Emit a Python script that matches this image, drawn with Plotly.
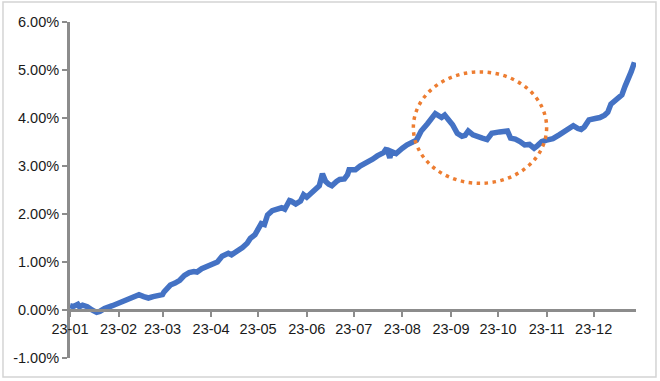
import plotly.graph_objects as go

# ---- data ----
dates = [
    "2023-01-01", "2023-01-03", "2023-01-06", "2023-01-07", "2023-01-09", "2023-01-12",
    "2023-01-15", "2023-01-18", "2023-01-20", "2023-01-23", "2023-01-28", "2023-02-01",
    "2023-02-05", "2023-02-09", "2023-02-14", "2023-02-17", "2023-02-20", "2023-02-23",
    "2023-02-26", "2023-03-01", "2023-03-02", "2023-03-06", "2023-03-09", "2023-03-12",
    "2023-03-15", "2023-03-18", "2023-03-21", "2023-03-23", "2023-03-26", "2023-03-30",
    "2023-04-02", "2023-04-05", "2023-04-08", "2023-04-12", "2023-04-14", "2023-04-17",
    "2023-04-21", "2023-04-24", "2023-04-26", "2023-04-29", "2023-05-01", "2023-05-03",
    "2023-05-05", "2023-05-07", "2023-05-10", "2023-05-13", "2023-05-16", "2023-05-18",
    "2023-05-21", "2023-05-22", "2023-05-25", "2023-05-28", "2023-05-30", "2023-06-01",
    "2023-06-04", "2023-06-07", "2023-06-09", "2023-06-11", "2023-06-13", "2023-06-15",
    "2023-06-17", "2023-06-20", "2023-06-22", "2023-06-25", "2023-06-27", "2023-06-28",
    "2023-07-02", "2023-07-05", "2023-07-09", "2023-07-13", "2023-07-16", "2023-07-20",
    "2023-07-22", "2023-07-24", "2023-07-25", "2023-07-28", "2023-08-01", "2023-08-04",
    "2023-08-10", "2023-08-13", "2023-08-17", "2023-08-20", "2023-08-22", "2023-08-26",
    "2023-08-28", "2023-08-30", "2023-09-02", "2023-09-05", "2023-09-08", "2023-09-10",
    "2023-09-12", "2023-09-15", "2023-09-18", "2023-09-21", "2023-09-24", "2023-09-27",
    "2023-10-02", "2023-10-07", "2023-10-09", "2023-10-12", "2023-10-15", "2023-10-18",
    "2023-10-21", "2023-10-24", "2023-10-26", "2023-10-29", "2023-11-01", "2023-11-05",
    "2023-11-09", "2023-11-14", "2023-11-18", "2023-11-21", "2023-11-23", "2023-11-25",
    "2023-11-28", "2023-12-02", "2023-12-05", "2023-12-08", "2023-12-10", "2023-12-12",
    "2023-12-16", "2023-12-19", "2023-12-21", "2023-12-23", "2023-12-25", "2023-12-27",
]
values = [
    0.09, 0.07, 0.12, 0.07, 0.10, 0.07,
    0.00, -0.05, -0.03, 0.03, 0.09, 0.14,
    0.19, 0.25, 0.32, 0.28, 0.25, 0.28,
    0.30, 0.32, 0.38, 0.52, 0.56, 0.62,
    0.72, 0.78, 0.80, 0.79, 0.86, 0.92,
    0.95, 1.00, 1.12, 1.18, 1.15, 1.21,
    1.30, 1.39, 1.49, 1.57, 1.68, 1.80,
    1.78, 1.98, 2.07, 2.10, 2.13, 2.10,
    2.28, 2.27, 2.21, 2.27, 2.40, 2.35,
    2.45, 2.52, 2.59, 2.84, 2.68, 2.62,
    2.59, 2.68, 2.72, 2.73, 2.82, 2.92,
    2.92, 3.00, 3.06, 3.14, 3.21, 3.28,
    3.37, 3.17, 3.30, 3.26, 3.37, 3.44,
    3.54, 3.73, 3.88, 3.99, 4.09, 4.01,
    4.06, 3.98, 3.86, 3.68, 3.62, 3.64,
    3.73, 3.65, 3.60, 3.58, 3.55, 3.68,
    3.71, 3.73, 3.58, 3.56, 3.51, 3.44,
    3.45, 3.37, 3.42, 3.51, 3.54, 3.57,
    3.65, 3.75, 3.84, 3.78, 3.76, 3.81,
    3.96, 3.99, 4.01, 4.06, 4.12, 4.29,
    4.39, 4.48, 4.66, 4.80, 4.97, 5.16,
]

month_ticks = ["2023-01-01", "2023-02-01", "2023-03-01", "2023-04-01", "2023-05-01", "2023-06-01",
               "2023-07-01", "2023-08-01", "2023-09-01", "2023-10-01", "2023-11-01", "2023-12-01"]
month_labels = ["23-01", "23-02", "23-03", "23-04", "23-05", "23-06",
                "23-07", "23-08", "23-09", "23-10", "23-11", "23-12"]
y_ticks = [-1, 0, 1, 2, 3, 4, 5, 6]
y_labels = ["-1.00%", "0.00%", "1.00%", "2.00%", "3.00%", "4.00%", "5.00%", "6.00%"]

# highlighted region (dotted ellipse)
circle_x = ["2023-08-08", "2023-11-01"]
circle_y = [2.64, 4.96]

x_range = ["2023-01-01", "2023-12-28"]
y_range = [-1, 6]

AXIS_GRAY = "#8c8c8c"
FONT = dict(family="Liberation Sans, Arial, sans-serif", size=14.5, color="#1a1a1a")

fig = go.Figure()
fig.add_trace(go.Scatter(
    x=dates, y=values, mode="lines",
    line=dict(color="#4472C4", width=5.5),
    hoverinfo="skip", showlegend=False,
))

fig.add_shape(
    type="circle", xref="x", yref="y",
    x0=circle_x[0], x1=circle_x[1], y0=circle_y[0], y1=circle_y[1],
    line=dict(color="#ED7D31", width=3.5, dash="3.5px,4.5px"),
    layer="above",
)

# outer chart border
fig.add_shape(
    type="rect", xref="paper", yref="paper",
    x0=-0.1184, x1=1.0353, y0=-0.0565, y1=1.0595,
    line=dict(color="#d4d4d4", width=1.5),
    layer="below",
)

fig.update_layout(
    width=660, height=381,
    margin=dict(l=70, r=24, t=22, b=23),
    paper_bgcolor="white", plot_bgcolor="white",
    font=FONT,
    showlegend=False,
    xaxis=dict(
        type="date", range=x_range,
        tickvals=month_ticks, ticktext=month_labels,
        anchor="free", position=(0 - y_range[0]) / (y_range[1] - y_range[0]),
        showline=True, linecolor=AXIS_GRAY, linewidth=3,
        ticks="outside", ticklen=5, tickwidth=2, tickcolor=AXIS_GRAY,
        showgrid=False, zeroline=False,
        tickfont=FONT,
    ),
    yaxis=dict(
        range=y_range,
        tickvals=y_ticks, ticktext=y_labels,
        showline=True, linecolor=AXIS_GRAY, linewidth=3,
        ticks="outside", ticklen=5, tickwidth=2, tickcolor=AXIS_GRAY,
        showgrid=False, zeroline=False,
        tickfont=FONT,
    ),
)

fig.write_html(
    "out.html",
    config={"displayModeBar": False, "staticPlot": True},
    post_script="document.body.style.margin='0';document.body.style.overflow='hidden';",
)
